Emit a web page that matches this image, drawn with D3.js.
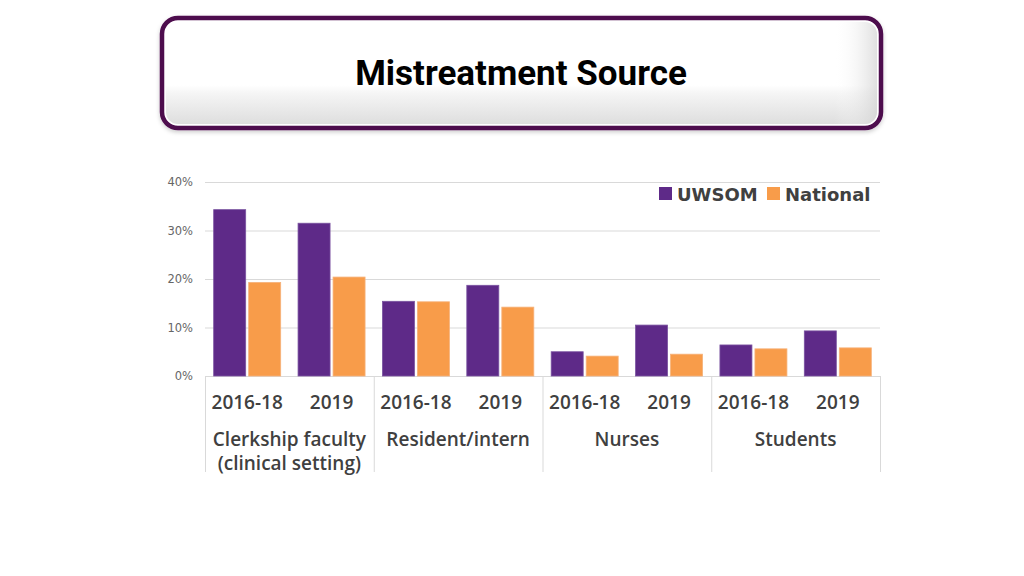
<!DOCTYPE html>
<html>
<head>
<meta charset="utf-8">
<script src="https://cdn.jsdelivr.net/npm/d3@7"></script>
<style>
  html, body { margin: 0; padding: 0; background: #ffffff; }
  svg { display: block; }
</style>
</head>
<body>
<svg id="chart" width="1024" height="576"></svg>
<script>
// ---- data ----
const title = "Mistreatment Source";
const categories = ["Clerkship faculty\n(clinical setting)", "Resident/intern", "Nurses", "Students"];
const years = ["2016-18", "2019"];
const seriesNames = ["UWSOM", "National"];
const uwsom    = [34.3, 31.5, 15.4, 18.7, 5.0, 10.5, 6.4, 9.3];
const national = [19.3, 20.4, 15.3, 14.2, 4.1, 4.5, 5.6, 5.8];
const yTicks = [0, 10, 20, 30, 40];
const colors = ["#5e2a88", "#f89c4a"];

// ---- build rows ----
const rows = [];
categories.forEach((c, ci) => years.forEach((yr, yi) => {
  const i = ci * years.length + yi;
  rows.push({ key: ci + "|" + yr, cat: c, year: yr, values: [uwsom[i], national[i]] });
}));

const svg = d3.select("#chart");
const defs = svg.append("defs");

// ---- title box ----
const g1 = defs.append("linearGradient").attr("id", "vgrad").attr("x1", 0).attr("y1", 0).attr("x2", 0).attr("y2", 1);
g1.append("stop").attr("offset", "0%").attr("stop-color", "#ffffff");
g1.append("stop").attr("offset", "62%").attr("stop-color", "#ffffff");
g1.append("stop").attr("offset", "70%").attr("stop-color", "#f5f5f5");
g1.append("stop").attr("offset", "100%").attr("stop-color", "#dedede");
const g2 = defs.append("linearGradient").attr("id", "hgrad").attr("x1", 0).attr("y1", 0).attr("x2", 1).attr("y2", 0);
g2.append("stop").attr("offset", "0%").attr("stop-color", "#ffffff").attr("stop-opacity", 0);
g2.append("stop").attr("offset", "94%").attr("stop-color", "#ffffff").attr("stop-opacity", 0);
g2.append("stop").attr("offset", "100%").attr("stop-color", "#d2d2d2").attr("stop-opacity", 0.7);
const flt = defs.append("filter").attr("id", "shadow").attr("x", "-5%").attr("y", "-10%").attr("width", "110%").attr("height", "130%");
flt.append("feDropShadow").attr("dx", 0).attr("dy", 2).attr("stdDeviation", 2).attr("flood-color", "#000").attr("flood-opacity", 0.2);

const box = svg.append("g").attr("class", "title-box");
box.append("rect").attr("x", 162).attr("y", 18).attr("width", 719).attr("height", 110)
  .attr("rx", 16).attr("fill", "#ffffff").attr("stroke", "#4e0b4e").attr("stroke-width", 4.5)
  .attr("filter", "url(#shadow)");
box.append("rect").attr("x", 166).attr("y", 22).attr("width", 711).attr("height", 102)
  .attr("rx", 12).attr("fill", "url(#vgrad)");
box.append("rect").attr("x", 166).attr("y", 22).attr("width", 711).attr("height", 102)
  .attr("rx", 12).attr("fill", "url(#hgrad)");
box.append("text").attr("x", 521).attr("y", 85).attr("text-anchor", "middle")
  .attr("font-family", "Roboto, 'Liberation Sans', sans-serif").attr("font-weight", 700)
  .attr("font-size", 35).attr("fill", "#000000").text(title);

// ---- scales ----
const plotLeft = 205, plotRight = 880, plotTop = 182, plotBottom = 376;
const x0 = d3.scaleBand().domain(rows.map(d => d.key)).range([plotLeft, plotRight]).padding(0);
const x1 = d3.scaleBand().domain(seriesNames).range([0, x0.bandwidth()]).paddingInner(0.0857).paddingOuter(0.248);
const y = d3.scaleLinear().domain([0, 40]).range([plotBottom, plotTop]);

// gridlines
svg.append("g").selectAll("line").data(yTicks).join("line")
  .attr("x1", plotLeft).attr("x2", plotRight)
  .attr("y1", d => y(d) + 0.5).attr("y2", d => y(d) + 0.5)
  .attr("stroke", "#d9d9d9").attr("stroke-width", 1);

// y axis labels
const yAxis = d3.axisLeft(y).tickValues(yTicks).tickFormat(d => d + "%").tickSize(0).tickPadding(0);
const ya = svg.append("g").attr("transform", `translate(${plotLeft - 12},0)`).call(yAxis);
ya.select(".domain").remove();
ya.selectAll("text").attr("font-family", "'DejaVu Sans', sans-serif").attr("font-size", 11.5)
  .attr("fill", "#666666").attr("font-weight", 400);

// bars
const groups = svg.append("g").selectAll("g").data(rows).join("g")
  .attr("transform", d => `translate(${x0(d.key)},0)`);
groups.selectAll("rect").data(d => d.values.map((v, i) => ({ s: seriesNames[i], v, i }))).join("rect")
  .attr("x", d => x1(d.s)).attr("width", x1.bandwidth())
  .attr("y", d => y(d.v)).attr("height", d => plotBottom - y(d.v))
  .attr("fill", d => colors[d.i])
  .attr("stroke", d => d.i === 0 ? "#7a53a0" : "#f6b27a").attr("stroke-width", 0.8);

// category axis lines
const catEdges = d3.range(categories.length + 1).map(i => plotLeft + i * (plotRight - plotLeft) / categories.length);
svg.append("g").selectAll("line").data(catEdges).join("line")
  .attr("x1", d => d + 0.5).attr("x2", d => d + 0.5).attr("y1", plotBottom).attr("y2", 472)
  .attr("stroke", "#d9d9d9").attr("stroke-width", 1);

// year labels
const labFont = "'Open Sans', 'Noto Sans', sans-serif";
svg.append("g").selectAll("text").data(rows).join("text")
  .attr("x", d => x0(d.key) + x0.bandwidth() / 2).attr("y", 409)
  .attr("text-anchor", "middle").attr("font-family", labFont).attr("font-weight", 600)
  .attr("font-size", 19).attr("fill", "#404040").text(d => d.year);

// category labels
categories.forEach((c, i) => {
  const cx = (catEdges[i] + catEdges[i + 1]) / 2;
  const t = svg.append("text").attr("x", cx).attr("y", 446).attr("text-anchor", "middle")
    .attr("font-family", labFont).attr("font-weight", 600).attr("font-size", 19).attr("fill", "#404040");
  c.split("\n").forEach((line, li) => {
    t.append("tspan").attr("x", cx).attr("dy", li === 0 ? 0 : 24).text(line);
  });
});

// legend
const legend = svg.append("g");
const legX = [659, 767];
seriesNames.forEach((s, i) => {
  legend.append("rect").attr("x", legX[i]).attr("y", 187).attr("width", 13).attr("height", 13).attr("fill", colors[i]);
  legend.append("text").attr("x", legX[i] + 18).attr("y", 200.5)
    .attr("font-family", "'DejaVu Sans', sans-serif").attr("font-weight", 700)
    .attr("font-size", 18).attr("fill", "#404040").text(s);
});
</script>
</body>
</html>
